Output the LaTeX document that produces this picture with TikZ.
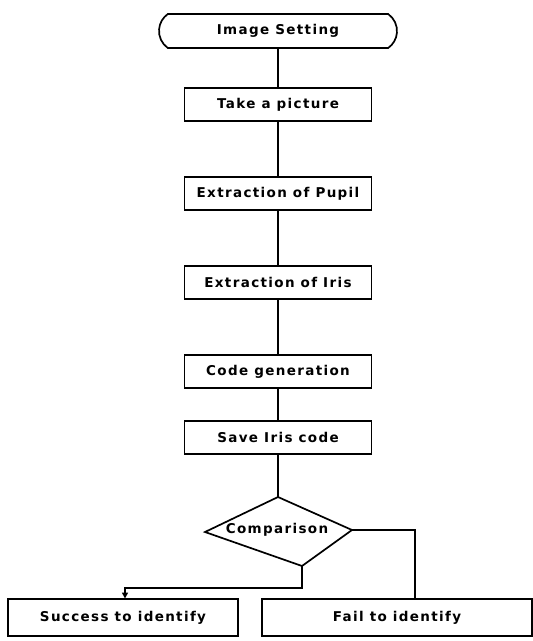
\documentclass[tikz,border=0pt]{standalone}
\usepackage{fontspec}
\setmainfont{DejaVu Sans}[LetterSpace=10]
\usetikzlibrary{shapes.misc,arrows.meta}
\begin{document}
\begin{tikzpicture}[x=1pt,y=-1pt,
  every node/.style={font=\bfseries\fontsize{13.5}{16}\selectfont, inner sep=0pt},
  stepbox/.style={draw, line width=1.6pt, minimum width=187pt, minimum height=33pt},
  endbox/.style={draw, line width=1.6pt, minimum height=37pt},
  term/.style={draw, line width=1.7pt, rounded rectangle, rounded rectangle arc length=110, minimum width=238pt, minimum height=34pt},
  link/.style={line width=1.6pt}]
\useasboundingbox (0,0) rectangle (533,641);
\node[term] (start) at (278,31) {Image Setting};
\node[stepbox] (s1) at (278,104.5) {Take a picture};
\node[stepbox] (s2) at (278,193.5) {Extraction of Pupil};
\node[stepbox] (s3) at (278,282.5) {Extraction of Iris};
\node[stepbox] (s4) at (278,371.5) {Code generation};
\node[stepbox] (s5) at (278,437.5) {Save Iris code};
% diamond
\coordinate (dt) at (278,497);
\coordinate (dr) at (352,530);
\coordinate (db) at (302,566);
\coordinate (dl) at (205,532);
\draw[line width=1.7pt, line join=miter] (dt) -- (dr) -- (db) -- (dl) -- cycle;
\node (cmp) at (277,530) {Comparison};
\node[endbox, minimum width=230pt] (ok) at (123,617.5) {Success to identify};
\node[endbox, minimum width=270pt] (fail) at (397,617.5) {Fail to identify};
\coordinate (bend) at (302,588);
\draw[link] (start.south -| s1.north) -- (s1.north);
\draw[link] (s1) -- (s2);
\draw[link] (s2) -- (s3);
\draw[link] (s3) -- (s4);
\draw[link] (s4) -- (s5);
\draw[link] (s5.south -| dt) -- (dt);
\draw[link, -{Triangle[length=6pt,width=6pt]}] (db) -- (bend) -| (125,598.5);
\draw[link] (dr) -| (415,598.5);
\end{tikzpicture}
\end{document}
